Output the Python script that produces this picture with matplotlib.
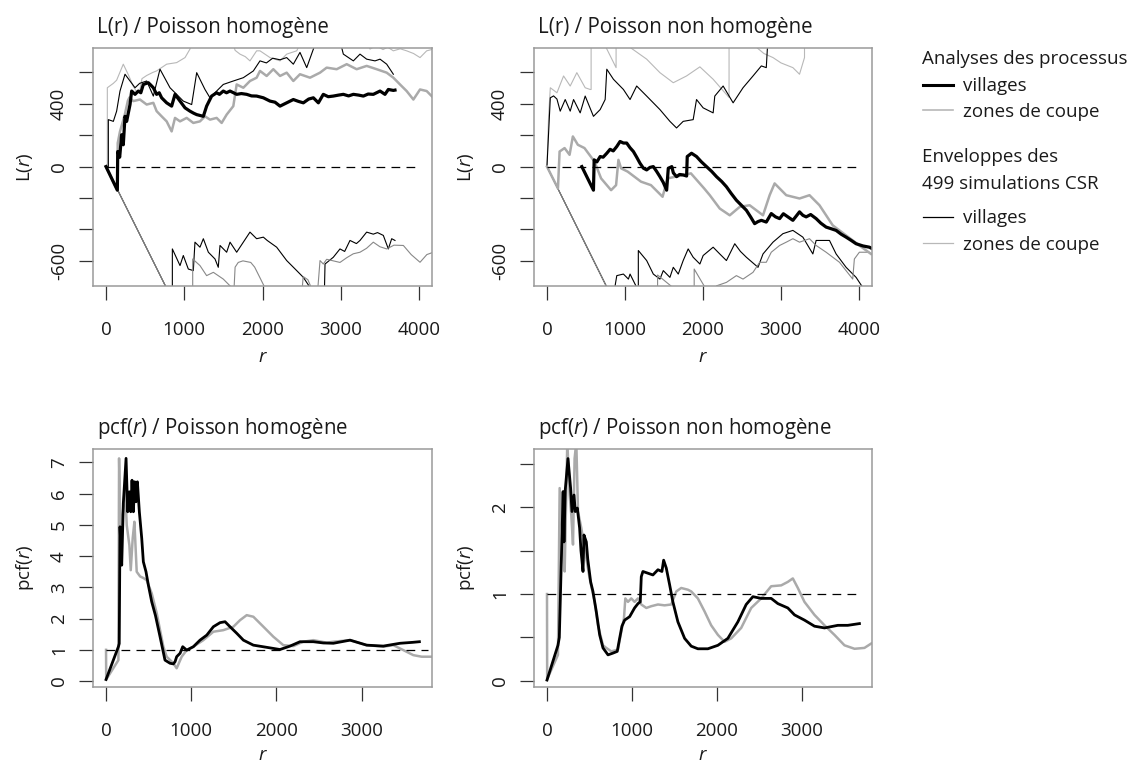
import matplotlib
matplotlib.use('Agg')
import matplotlib.pyplot as plt
from matplotlib.lines import Line2D

plt.rcParams['font.family'] = ['Open Sans', 'DejaVu Sans']
plt.rcParams['mathtext.fontset'] = 'custom'
plt.rcParams['mathtext.it'] = 'Open Sans:italic'
plt.rcParams['mathtext.rm'] = 'Open Sans'

# ---------------- data: top-left  L(r)-r / Poisson homogene ----------------
TL_villages = [(0, 0), (145, -150), (150, 96), (175, 60), (200, 203), (221, 139), (243, 320), (264, 288),
               (307, 395), (328, 481), (371, 460), (413, 481), (445, 470), (477, 523), (541, 534), (570, 520),
               (605, 502), (647, 460), (680, 470), (711, 438), (775, 406), (839, 385), (882, 460), (946, 417),
               (1010, 374), (1073, 353), (1120, 340), (1159, 331), (1244, 320), (1286, 385), (1350, 449),
               (1414, 470), (1450, 460), (1499, 481), (1540, 470), (1585, 481), (1670, 460), (1730, 465),
               (1798, 460), (1860, 450), (1925, 449), (2011, 438), (2096, 417), (2160, 410), (2224, 385),
               (2309, 406), (2394, 427), (2460, 415), (2522, 406), (2590, 430), (2650, 438), (2714, 406),
               (2777, 460), (2840, 445), (2905, 449), (2970, 455), (3033, 460), (3100, 450), (3161, 460),
               (3230, 455), (3289, 449), (3350, 462), (3416, 460), (3502, 481), (3565, 460), (3608, 491),
               (3672, 485), (3693, 487)]
TL_zones = [(0, 0), (145, -150), (150, 150), (179, 224), (200, 260), (240, 330), (280, 420), (300, 440),
            (349, 417), (434, 427), (520, 395), (605, 406), (647, 353), (711, 320), (775, 288), (839, 224),
            (882, 310), (946, 288), (1031, 310), (1116, 278), (1201, 288), (1265, 320), (1329, 299),
            (1414, 310), (1478, 278), (1542, 331), (1627, 385), (1670, 523), (1755, 502), (1840, 545),
            (1925, 566), (1968, 609), (2053, 577), (2138, 620), (2224, 577), (2309, 598), (2394, 545),
            (2479, 588), (2607, 566), (2735, 598), (2820, 630), (2948, 620), (3076, 652), (3203, 620),
            (3331, 641), (3459, 620), (3587, 598), (3672, 566), (3757, 523), (3842, 481), (3928, 427),
            (4013, 491), (4098, 481), (4183, 438)]
TL_villages_hi = [(0, 0), (30, 0), (30, 299), (94, 288), (136, 353), (179, 481), (243, 588), (307, 545),
                  (371, 502), (430, 530), (520, 545), (605, 449), (690, 620), (818, 502), (903, 460),
                  (988, 417), (1095, 395), (1159, 598), (1265, 491), (1329, 438), (1414, 481), (1499, 523),
                  (1627, 545), (1755, 566), (1883, 609), (1968, 673), (2050, 660), (2130, 690), (2224, 680),
                  (2309, 694), (2394, 652), (2479, 727), (2565, 630), (2650, 748), (2700, 820), (2980, 820),
                  (3033, 716), (3161, 673), (3246, 716), (3331, 684), (3438, 673), (3502, 684), (3587, 652),
                  (3672, 588)]
TL_zones_hi = [(0, 0), (17, 0), (17, 502), (94, 530), (136, 550), (221, 652), (290, 580), (350, 510),
               (400, 470), (430, 480), (460, 560), (520, 580), (600, 600), (647, 609), (775, 652), (903, 662),
               (1010, 694), (1073, 748), (1120, 820), (1600, 820), (1650, 740), (1712, 716), (1780, 700),
               (1840, 673), (1925, 737), (1968, 737), (2096, 694), (2224, 673), (2309, 716), (2437, 737),
               (2520, 820), (3300, 820), (3374, 748), (3450, 770), (3540, 745), (3600, 760), (3672, 737),
               (3760, 750), (3842, 737), (3930, 720), (4013, 694), (4098, 737), (4183, 748)]
TL_villages_lo = [(0, 0), (848, -848), (848, -524), (946, -630), (988, -566), (1052, -652), (1116, -662),
                  (1137, -481), (1201, -513), (1244, -459), (1308, -545), (1393, -588), (1435, -641),
                  (1457, -502), (1542, -545), (1585, -481), (1670, -545), (1755, -481), (1840, -417),
                  (1925, -459), (2011, -449), (2060, -470), (2181, -513), (2309, -598), (2437, -662),
                  (2522, -705), (2607, -769), (2650, -820), (2790, -820), (2799, -620), (2905, -577),
                  (2990, -524), (3050, -540), (3118, -470), (3200, -490), (3246, -470), (3331, -417),
                  (3416, -430), (3470, -420), (3544, -438), (3608, -524), (3651, -459), (3693, -470)]
TL_zones_lo = [(0, 0), (1108, -1108), (1108, -588), (1201, -630), (1286, -694), (1372, -673), (1499, -716),
               (1585, -759), (1636, -780), (1650, -640), (1690, -610), (1750, -600), (1850, -610),
               (1900, -640), (2050, -790), (2100, -820), (2500, -820), (2520, -700), (2580, -720),
               (2640, -790), (2700, -820), (2735, -598), (2777, -620), (2820, -590), (2905, -600),
               (2990, -610), (3076, -580), (3160, -555), (3246, -545), (3330, -520), (3416, -481),
               (3500, -510), (3587, -524), (3680, -500), (3800, -502), (3900, -560), (4013, -609),
               (4100, -560), (4183, -545)]

# ---------------- data: top-right  L(r)-r / Poisson non homogene ----------------
TR_villages = [(447, 0), (596, -150), (605, 43), (640, 30), (682, 64), (720, 60), (767, 85), (809, 110),
               (850, 100), (895, 128), (937, 160), (980, 150), (1022, 150), (1065, 120), (1108, 96),
               (1150, 60), (1193, 21), (1236, -10), (1278, -21), (1320, -5), (1363, 0), (1405, -30),
               (1448, -64), (1490, -100), (1534, -150), (1555, -11), (1600, 0), (1620, -40), (1661, -64),
               (1700, -50), (1746, -53), (1790, -60), (1798, 64), (1853, 85), (1917, 64), (1980, 30),
               (2045, 0), (2110, -30), (2173, -64), (2240, -95), (2300, -128), (2360, -170), (2428, -214),
               (2490, -245), (2556, -278), (2610, -320), (2662, -363), (2705, -350), (2748, -342),
               (2811, -353), (2875, -299), (2930, -320), (2982, -331), (3030, -300), (3088, -320),
               (3152, -342), (3237, -288), (3280, -310), (3322, -320), (3380, -305), (3450, -331),
               (3510, -360), (3578, -385), (3640, -395), (3706, -406), (3770, -430), (3834, -449),
               (3900, -470), (3962, -491), (4050, -505), (4132, -513), (4160, -520)]
TR_zones = [(0, 0), (141, -139), (162, 96), (226, 118), (290, 75), (332, 192), (396, 139), (481, 118),
            (609, 32), (694, -75), (822, -150), (886, -118), (916, 43), (950, -11), (1035, -32),
            (1206, -96), (1333, -118), (1482, -192), (1546, -75), (1759, -53), (1845, -43), (2015, -139),
            (2087, -182), (2215, -267), (2343, -310), (2471, -256), (2598, -246), (2769, -310),
            (2854, -182), (2918, -107), (3067, -182), (3237, -203), (3365, -182), (3493, -246),
            (3663, -374), (3834, -438), (4004, -502), (4153, -556)]
TR_villages_hi = [(0, 0), (21, 214), (43, 438), (85, 450), (128, 430), (170, 353), (234, 427), (298, 353),
                  (341, 427), (426, 342), (490, 449), (596, 320), (682, 363), (746, 427), (767, 620),
                  (852, 556), (980, 491), (1065, 427), (1150, 513), (1278, 449), (1448, 363), (1576, 288),
                  (1661, 246), (1746, 288), (1874, 299), (1917, 427), (2002, 374), (2130, 342), (2151, 449),
                  (2258, 513), (2386, 406), (2513, 502), (2641, 577), (2748, 641), (2811, 630), (2833, 820),
                  (4200, 820)]
TR_zones_hi = [(0, 0), (21, 320), (43, 502), (128, 470), (213, 577), (298, 513), (383, 598), (490, 502),
               (554, 491), (566, 491), (566, 950), (886, 630), (886, 1000), (1065, 759), (1278, 684),
               (1448, 598), (1619, 534), (1789, 577), (1960, 635), (2130, 556), (2334, 440), (2334, 1000),
               (2684, 760), (2780, 720), (2897, 694), (3000, 660), (3152, 630), (3237, 588), (3301, 694),
               (3301, 1000), (4200, 1000)]
TR_villages_lo = [(0, 0), (873, -873), (873, -760), (895, -694), (980, -684), (1044, -716), (1065, -684),
                  (1150, -769), (1171, -800), (1171, -534), (1278, -598), (1363, -684), (1448, -716),
                  (1491, -662), (1576, -705), (1619, -641), (1683, -684), (1746, -598), (1810, -524),
                  (1874, -577), (1960, -620), (2002, -566), (2130, -513), (2215, -556), (2300, -598),
                  (2407, -491), (2480, -540), (2556, -577), (2705, -641), (2769, -556), (2897, -481),
                  (3024, -427), (3152, -406), (3280, -449), (3408, -556), (3450, -470), (3621, -470),
                  (3706, -556), (3834, -641), (3962, -705), (4047, -769), (4170, -800)]
TR_zones_lo = [(0, 0), (1418, -1418), (1418, -690), (1590, -760), (1620, -820), (1887, -820), (1887, -652),
               (2015, -760), (2100, -800), (2173, -790), (2173, -759), (2300, -737), (2428, -694),
               (2513, -716), (2641, -673), (2726, -609), (2811, -609), (2875, -545), (2982, -502),
               (3067, -481), (3152, -459), (3237, -481), (3365, -459), (3450, -502), (3578, -545),
               (3749, -609), (3919, -716), (3940, -588), (4004, -545), (4132, -545), (4170, -560)]

# ---------------- data: bottom-left  pcf / Poisson homogene ----------------
BL_villages = [(0, 0.05), (145, 1.1), (155, 1.2), (164, 4.94), (184, 3.71), (203, 5.69), (235, 7.13),
               (254, 5.42), (274, 6.06), (290, 5.42), (305, 6.43), (321, 5.42), (336, 6.38), (352, 5.74),
               (368, 6.38), (391, 5.42), (419, 4.57), (438, 3.82), (469, 3.50), (497, 3.07), (536, 2.54),
               (580, 2.1), (634, 1.42), (692, 0.67), (751, 0.57), (790, 0.55), (810, 0.62), (829, 0.78),
               (869, 0.89), (900, 1.10), (947, 0.99), (1025, 1.10), (1103, 1.31), (1182, 1.47),
               (1260, 1.74), (1338, 1.87), (1397, 1.90), (1455, 1.74), (1534, 1.53), (1612, 1.31),
               (1729, 1.15), (1886, 1.08), (2042, 1.01), (2160, 1.12), (2277, 1.26), (2433, 1.26),
               (2550, 1.22), (2668, 1.21), (2864, 1.31), (3059, 1.15), (3255, 1.12), (3451, 1.21),
               (3600, 1.24), (3678, 1.26)]
BL_zones = [(0, 1.0), (2, 0.05), (145, 0.67), (153, 7.13), (164, 5.42), (184, 4.89), (223, 6.27),
            (243, 4.99), (274, 4.35), (290, 3.55), (313, 4.57), (333, 5.10), (360, 3.5), (400, 3.35),
            (438, 3.3), (477, 3.23), (536, 2.81), (595, 2.17), (673, 1.10), (712, 0.78), (790, 0.57),
            (829, 0.41), (888, 0.78), (947, 0.99), (1025, 1.10), (1142, 1.31), (1260, 1.58), (1377, 1.63),
            (1495, 1.74), (1573, 1.95), (1651, 2.11), (1729, 2.06), (1847, 1.74), (1964, 1.42),
            (2081, 1.15), (2199, 1.12), (2316, 1.26), (2433, 1.31), (2590, 1.23), (2668, 1.26),
            (2864, 1.31), (3059, 1.15), (3255, 1.10), (3372, 1.15), (3490, 0.99), (3607, 0.83),
            (3705, 0.78), (3830, 0.78)]

# ---------------- data: bottom-right  pcf / Poisson non homogene ----------------
BR_villages = [(0, 0.01), (129, 0.41), (145, 0.5), (190, 2.18), (200, 1.6), (215, 2.2), (247, 2.56),
               (278, 2.22), (294, 1.95), (318, 2.14), (333, 1.95), (357, 1.99), (384, 1.76), (400, 1.5),
               (424, 1.26), (435, 1.68), (463, 1.60), (480, 1.4), (514, 1.14), (541, 1.03), (580, 0.80),
               (620, 0.53), (659, 0.38), (718, 0.30), (776, 0.32), (827, 0.34), (855, 0.49), (882, 0.63),
               (914, 0.70), (973, 0.74), (1031, 0.84), (1071, 0.89), (1098, 0.91), (1110, 1.20),
               (1129, 1.26), (1188, 1.24), (1247, 1.22), (1306, 1.28), (1353, 1.26), (1373, 1.39),
               (1404, 1.30), (1443, 1.11), (1482, 0.91), (1541, 0.68), (1620, 0.49), (1698, 0.40),
               (1776, 0.37), (1894, 0.37), (2012, 0.41), (2129, 0.49), (2247, 0.68), (2345, 0.88),
               (2424, 0.97), (2522, 0.95), (2639, 0.95), (2718, 0.89), (2835, 0.84), (2914, 0.76),
               (3031, 0.70), (3149, 0.63), (3267, 0.61), (3424, 0.64), (3541, 0.64), (3678, 0.66)]
BR_zones = [(0, 1.0), (2, 0.02), (129, 0.30), (149, 2.22), (188, 1.57), (208, 1.26), (239, 2.75),
            (267, 2.14), (286, 1.91), (306, 1.57), (325, 2.56), (345, 2.75), (365, 1.95), (404, 1.76),
            (443, 1.53), (502, 1.18), (561, 0.91), (600, 0.64), (659, 0.41), (698, 0.38), (757, 0.34),
            (835, 0.36), (875, 0.57), (906, 0.72), (922, 0.95), (953, 0.91), (992, 0.95), (1031, 0.91),
            (1071, 0.95), (1110, 0.88), (1169, 0.84), (1227, 0.86), (1306, 0.88), (1384, 0.87),
            (1463, 0.88), (1522, 1.03), (1580, 1.07), (1659, 1.05), (1698, 1.03), (1776, 0.95),
            (1855, 0.80), (1933, 0.64), (2012, 0.53), (2090, 0.45), (2169, 0.49), (2286, 0.61),
            (2404, 0.84), (2522, 0.95), (2639, 1.09), (2757, 1.10), (2835, 1.14), (2894, 1.18),
            (2953, 1.07), (3031, 0.91), (3149, 0.76), (3267, 0.64), (3384, 0.53), (3502, 0.41),
            (3620, 0.37), (3737, 0.38), (3816, 0.43)]

TOP_XTICKS = [0, 1000, 2000, 3000, 4000]
BOT_XTICKS = [0, 1000, 2000, 3000]
TOP_YTICKS = [-600, -400, -200, 0, 200, 400, 600]
TOP_YLABELED = [-600, 0, 400]
BL_YTICKS = [0, 1, 2, 3, 4, 5, 6, 7]
BR_YTICKS = [0, 0.5, 1, 1.5, 2, 2.5]
BR_YLABELED = [0, 1, 2]

TITLES = ['L(r) / Poisson homogène', 'L(r) / Poisson non homogène',
          r'pcf($\it{r}$) / Poisson homogène', r'pcf($\it{r}$) / Poisson non homogène']

BLACK = '#000000'
GREY_OBS = '#aaaaaa'
GREY_ENV = '#b8b8b8'
TXT = '#1a1a1a'
FS = 13.5
FS_TITLE = 14.8

W, H = 1140, 765
fig = plt.figure(figsize=(W / 100, H / 100), dpi=100)


def axes_px(x0, y0, x1, y1):
    return fig.add_axes([x0 / W, 1 - y1 / H, (x1 - x0) / W, (y1 - y0) / H])


def line(ax, pts, **kw):
    xs, ys = zip(*pts)
    ax.plot(xs, ys, solid_joinstyle='round', **kw)


def style(ax, xlim, ylim, xticks, yticks, ylabeled, title, ylabel, xlab_off):
    ax.set_xlim(*xlim)
    ax.set_ylim(*ylim)
    for s in ax.spines.values():
        s.set_color('#9a9a9a')
        s.set_linewidth(1.1)
    ax.set_xticks(xticks)
    ax.set_xticklabels([str(v) for v in xticks])
    ax.set_yticks(yticks)
    ax.set_yticklabels([('%g' % v) if v in ylabeled else '' for v in yticks])
    ax.tick_params(axis='both', direction='out', length=10, width=0.9, color='#333333',
                   labelsize=FS, labelcolor=TXT)
    ax.tick_params(axis='x', pad=15)
    ax.tick_params(axis='y', pad=8)
    for lab in ax.get_yticklabels():
        lab.set_rotation(90)
        lab.set_va('center')
        lab.set_ha('right')
    hgt = ax.get_position().height * H
    wid = ax.get_position().width * W
    ax.text(4 / wid, 1 + 15 / hgt, title, transform=ax.transAxes, ha='left', va='baseline',
            fontsize=FS_TITLE, color=TXT)
    ax.text(0.5, -xlab_off / hgt, r'$\it{r}$', transform=ax.transAxes, ha='center', va='baseline',
            fontsize=FS, color=TXT)
    ax.text(-68 / wid, 0.5, ylabel, transform=ax.transAxes, ha='center', va='center',
            rotation=90, fontsize=FS, color=TXT)


DASH = (7, 5)

# ---- top-left
ax1 = axes_px(93, 48, 432, 286)
line(ax1, TL_villages_lo, color=BLACK, lw=0.8)
line(ax1, TL_zones_lo, color='#888888', lw=0.8)
line(ax1, TL_zones_hi, color=GREY_ENV, lw=0.8)
line(ax1, TL_villages_hi, color=BLACK, lw=0.8)
line(ax1, TL_zones, color=GREY_OBS, lw=1.8)
line(ax1, TL_villages, color=BLACK, lw=2.3)
ax1.plot([0, 4000], [0, 0], color=BLACK, lw=0.9, dashes=DASH)
style(ax1, (-166, 4166), (-760, 755), TOP_XTICKS, TOP_YTICKS, TOP_YLABELED, TITLES[0],
      r'L($\it{r}$)', 76)

# ---- top-right
ax2 = axes_px(534, 48, 872, 286)
line(ax2, TR_villages_lo, color=BLACK, lw=0.8)
line(ax2, TR_zones_lo, color='#888888', lw=0.8)
line(ax2, TR_zones_hi, color=GREY_ENV, lw=0.8)
line(ax2, TR_villages_hi, color=BLACK, lw=0.8)
line(ax2, TR_zones, color=GREY_OBS, lw=1.8)
line(ax2, TR_villages, color=BLACK, lw=2.3)
ax2.plot([0, 4000], [0, 0], color=BLACK, lw=0.9, dashes=DASH)
style(ax2, (-166, 4166), (-760, 755), TOP_XTICKS, TOP_YTICKS, TOP_YLABELED, TITLES[1],
      r'L($\it{r}$)', 76)

# ---- bottom-left
ax3 = axes_px(93, 449, 432, 687)
line(ax3, BL_zones, color=GREY_OBS, lw=1.8)
line(ax3, BL_villages, color=BLACK, lw=2.0)
ax3.plot([0, 3780], [1, 1], color=BLACK, lw=0.9, dashes=DASH)
style(ax3, (-153, 3826), (-0.19, 7.43), BOT_XTICKS, BL_YTICKS, BL_YTICKS, TITLES[2],
      r'pcf($\it{r}$)', 73)

# ---- bottom-right
ax4 = axes_px(534, 449, 872, 687)
line(ax4, BR_zones, color=GREY_OBS, lw=1.8)
line(ax4, BR_villages, color=BLACK, lw=2.0)
ax4.plot([0, 3686], [1, 1], color=BLACK, lw=0.9, dashes=DASH)
style(ax4, (-153, 3826), (-0.07, 2.67), BOT_XTICKS, BR_YTICKS, BR_YLABELED, TITLES[3],
      r'pcf($\it{r}$)', 73)


# ---- legend (figure coordinates)
def ftext(x, y, s):
    fig.text(x / W, 1 - y / H, s, ha='left', va='baseline', fontsize=FS, color=TXT)


def fline(y, color, lw):
    fig.add_artist(Line2D([923 / W, 953 / W], [1 - y / H, 1 - y / H], color=color, lw=lw))


ftext(922, 64, 'Analyses des processus')
fline(85, BLACK, 2.2)
ftext(963, 91, 'villages')
fline(110, GREY_ENV, 1.2)
ftext(963, 117, 'zones de coupe')
ftext(922, 162, 'Enveloppes des')
ftext(922, 189, '499 simulations CSR')
fline(217, BLACK, 0.9)
ftext(963, 223, 'villages')
fline(243, GREY_ENV, 0.9)
ftext(963, 250, 'zones de coupe')

fig.savefig('out.png', dpi=100)
